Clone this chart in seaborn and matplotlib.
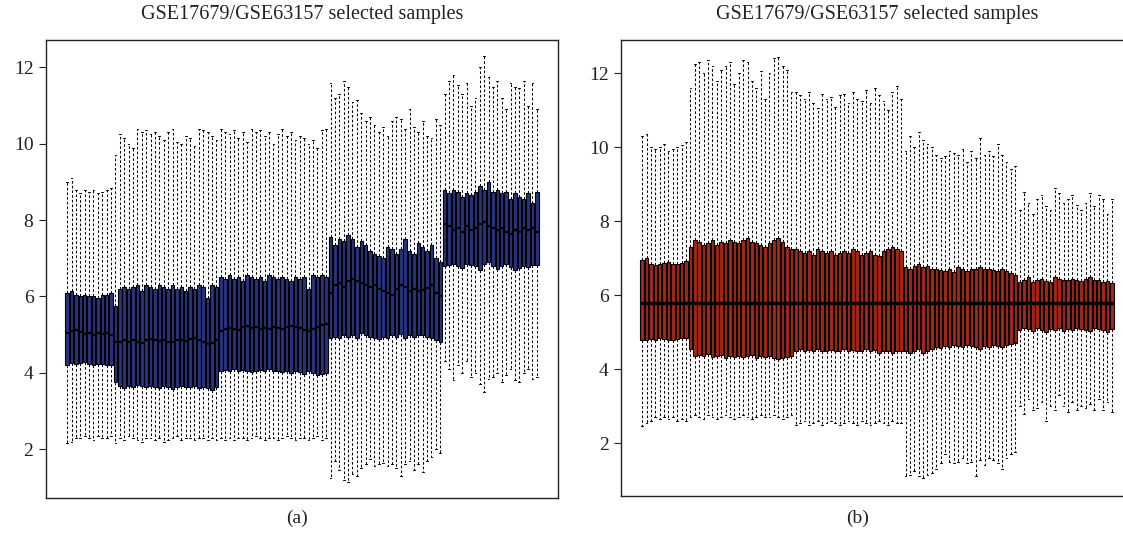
import numpy as np
import pandas as pd
import seaborn as sns
import matplotlib
matplotlib.use("Agg")
import matplotlib.pyplot as plt

sns.set_style("white")
plt.rcParams['font.family'] = ['Liberation Serif', 'DejaVu Serif']

title = "GSE17679/GSE63157 selected samples"

# ---- panel (a): per-sample box statistics (5 batches of samples) ----
a_hi = [9.0, 9.1, 8.8, 8.7, 8.8, 8.75, 8.8, 8.7, 8.75, 8.8, 8.85,
        9.7, 10.25, 10.15, 10.0, 9.9, 10.4, 10.3, 10.35, 10.25, 10.3,
        10.2, 10.1, 10.3, 10.4, 10.05, 10.0, 10.2, 10.15, 9.95, 10.4,
        10.35, 10.3, 10.2, 10.1,
        10.4, 10.3, 10.25, 10.35, 10.15, 10.3, 10.05, 10.4, 10.3, 10.35,
        10.2, 10.3, 10.0, 10.25, 10.4, 10.2, 10.3, 10.1, 10.2, 10.15,
        10.0, 10.1, 9.9, 10.35, 10.4,
        11.6, 11.2, 11.3, 11.65, 11.5, 11.1, 11.15, 10.8, 10.6, 10.7,
        10.5, 10.3, 10.45, 10.2, 10.6, 10.7, 10.65, 10.4, 10.9, 10.45,
        10.3, 10.6, 10.2, 10.15, 10.65, 10.5,
        11.3, 11.65, 11.8, 11.55, 11.3, 11.6, 11.0, 11.2, 12.0, 12.3,
        11.75, 11.5, 11.65, 11.2, 10.9, 11.6, 11.5, 11.45, 11.65, 11.0,
        11.6, 10.9]
a_q3 = [6.1, 6.15, 6.05, 6.0, 6.05, 6.0, 6.0, 5.95, 6.05, 6.05, 6.1,
        5.75, 6.2, 6.25, 6.2, 6.25, 6.3, 6.15, 6.3, 6.25, 6.2,
        6.3, 6.25, 6.2, 6.3, 6.2, 6.25, 6.15, 6.25, 6.2, 6.3,
        6.25, 5.95, 6.3, 6.25,
        6.5, 6.45, 6.55, 6.45, 6.5, 6.4, 6.55, 6.5, 6.45, 6.5,
        6.4, 6.55, 6.5, 6.45, 6.5, 6.45, 6.4, 6.5, 6.45, 6.5,
        6.2, 6.55, 6.5, 6.55, 6.5,
        7.55, 7.35, 7.5, 7.45, 7.6, 7.5, 7.3, 7.45, 7.35, 7.2,
        7.1, 7.05, 7.0, 7.3, 7.25, 7.1, 7.25, 7.5, 7.2, 7.1,
        7.4, 7.3, 7.2, 7.35, 7.0, 6.9,
        8.8, 8.7, 8.8, 8.75, 8.6, 8.7, 8.65, 8.75, 8.9, 8.8,
        9.0, 8.75, 8.8, 8.7, 8.75, 8.55, 8.7, 8.6, 8.55, 8.7,
        8.45, 8.75]
a_med = [5.05, 5.1, 5.12, 5.08, 5.02, 5.05, 5.0, 5.05, 5.02, 5.04, 5.0,
         4.8, 4.82, 4.85, 4.8, 4.85, 4.82, 4.78, 4.86, 4.88, 4.85,
         4.83, 4.86, 4.82, 4.8, 4.85, 4.87, 4.84, 4.88, 4.9, 4.86,
         4.82, 4.75, 4.78, 4.85,
         5.1, 5.15, 5.18, 5.14, 5.12, 5.2, 5.22, 5.18, 5.2, 5.16,
         5.18, 5.15, 5.2, 5.18, 5.16, 5.2, 5.22, 5.2, 5.18, 5.12,
         5.1, 5.15, 5.2, 5.25, 5.28,
         6.1, 6.3, 6.35, 6.25, 6.4, 6.45, 6.4, 6.35, 6.3, 6.25,
         6.3, 6.2, 6.15, 6.1, 6.05, 6.2, 6.3, 6.25, 6.15, 6.2,
         6.15, 6.18, 6.22, 6.3, 6.1, 6.0,
         7.9, 7.85, 7.75, 7.8, 7.7, 7.85, 7.75, 7.8, 7.9, 7.95,
         7.85, 7.8, 7.75, 7.8, 7.7, 7.65, 7.75, 7.7, 7.8, 7.75,
         7.8, 7.7]
a_q1 = [4.2, 4.25, 4.22, 4.25, 4.28, 4.22, 4.2, 4.24, 4.22, 4.2, 4.2,
        3.75, 3.65, 3.6, 3.65, 3.62, 3.68, 3.65, 3.64, 3.66, 3.62,
        3.6, 3.65, 3.63, 3.58, 3.62, 3.66, 3.64, 3.62, 3.65, 3.6,
        3.62, 3.6, 3.55, 3.62,
        4.05, 4.08, 4.04, 4.1, 4.06, 4.08, 4.05, 4.02, 4.06, 4.08,
        4.04, 4.1, 4.06, 4.04, 4.02, 4.06, 4.0, 4.04, 4.02, 3.98,
        4.05, 4.0, 3.95, 3.98, 4.0,
        4.9, 4.95, 4.92, 5.0, 4.95, 4.98, 4.92, 5.05, 5.0, 4.95,
        4.9, 4.88, 4.95, 4.9, 5.0, 4.95, 5.02, 4.92, 5.0, 4.95,
        4.98, 5.0, 4.95, 4.9, 4.85, 4.8,
        6.8, 6.82, 6.85, 6.8, 6.75, 6.85, 6.82, 6.8, 6.7, 6.85,
        6.9, 6.8, 6.72, 6.8, 6.85, 6.78, 6.7, 6.75, 6.8, 6.78,
        6.82, 6.82]
a_lo = [2.15, 2.2, 2.3, 2.3, 2.35, 2.3, 2.25, 2.35, 2.3, 2.3, 2.35,
        2.15, 2.3, 2.25, 2.35, 2.3, 2.25, 2.2, 2.3, 2.3, 2.25,
        2.3, 2.2, 2.25, 2.3, 2.35, 2.25, 2.3, 2.3, 2.25, 2.3,
        2.3, 2.25, 2.3, 2.25,
        2.3, 2.25, 2.3, 2.25, 2.3, 2.3, 2.25, 2.3, 2.35, 2.3,
        2.25, 2.3, 2.3, 2.25, 2.3, 2.35, 2.3, 2.25, 2.3, 2.3,
        2.25, 2.3, 2.35, 2.25, 2.3,
        1.25, 1.7, 1.45, 1.2, 1.15, 1.35, 1.3, 1.5, 1.6, 1.75,
        1.55, 1.6, 1.65, 1.55, 1.6, 1.5, 1.3, 1.6, 1.7, 1.45,
        1.6, 1.4, 1.7, 1.8, 2.0, 1.9,
        4.3, 4.1, 3.8, 4.2, 4.0, 4.3, 3.9, 4.0, 3.7, 3.5,
        3.85, 3.9, 4.0, 3.75, 3.95, 4.1, 3.8, 3.75, 4.0, 4.1,
        3.85, 3.9]

# ---- panel (b): same samples after normalisation ----
b_hi = [10.3, 10.35, 10.0, 9.95, 10.0, 10.1, 9.9, 9.95, 10.0, 10.05, 10.15,
        11.6, 12.25, 12.3, 12.0, 12.35, 12.2, 11.8, 12.1, 12.2, 12.3,
        11.7, 12.0, 12.35, 12.3, 11.8, 11.6, 12.05, 11.3, 12.0, 12.4,
        12.45, 12.2, 12.1, 11.5,
        11.5, 11.4, 11.3, 11.5, 11.2, 11.05, 11.45, 11.3, 11.35, 11.1,
        11.4, 11.45, 11.2, 11.5, 11.3, 11.25, 11.55, 11.2, 11.6, 11.4,
        11.25, 11.0, 11.5, 11.65, 11.3,
        9.9, 10.3, 10.0, 10.4, 10.2, 10.1, 10.0, 9.8, 9.7, 9.75,
        9.9, 9.85, 9.8, 9.95, 9.6, 9.9, 9.7, 10.25, 9.8, 9.9,
        9.75, 10.1, 9.8, 9.6, 9.4, 9.5,
        8.3, 8.8, 8.5, 8.2, 8.6, 8.7, 8.4, 8.3, 8.9, 8.75,
        8.5, 8.6, 8.7, 8.45, 8.3, 8.5, 8.75, 8.4, 8.7, 8.6,
        8.2, 8.6]
b_q3 = [6.95, 7.0, 6.85, 6.82, 6.85, 6.88, 6.9, 6.85, 6.85, 6.88, 6.92,
        7.3, 7.5, 7.45, 7.35, 7.4, 7.5, 7.35, 7.45, 7.4, 7.5,
        7.45, 7.4, 7.5, 7.55, 7.45, 7.4, 7.35, 7.3, 7.4, 7.5,
        7.55, 7.45, 7.3, 7.25,
        7.25, 7.2, 7.15, 7.2, 7.1, 7.25, 7.2, 7.15, 7.2, 7.1,
        7.15, 7.2, 7.15, 7.25, 7.2, 7.1, 7.15, 7.2, 7.1, 7.05,
        7.2, 7.25, 7.3, 7.25, 7.2,
        6.75, 6.7, 6.8, 6.85, 6.75, 6.8, 6.7, 6.72, 6.68, 6.65,
        6.7, 6.62, 6.75, 6.7, 6.65, 6.72, 6.7, 6.75, 6.7, 6.72,
        6.68, 6.65, 6.7, 6.65, 6.6, 6.55,
        6.35, 6.4, 6.5, 6.35, 6.4, 6.45, 6.38, 6.35, 6.5, 6.45,
        6.4, 6.42, 6.45, 6.4, 6.38, 6.45, 6.5, 6.4, 6.42, 6.35,
        6.38, 6.32]
b_med = [5.8] * 108
b_q1 = [4.78, 4.8, 4.82, 4.8, 4.85, 4.82, 4.8, 4.78, 4.82, 4.85, 4.85,
        4.55, 4.35, 4.38, 4.35, 4.4, 4.32, 4.35, 4.38, 4.3, 4.35,
        4.33, 4.36, 4.32, 4.35, 4.38, 4.3, 4.35, 4.32, 4.36, 4.3,
        4.28, 4.3, 4.32, 4.35,
        4.5, 4.55, 4.48, 4.52, 4.5, 4.55, 4.48, 4.5, 4.52, 4.5,
        4.48, 4.55, 4.5, 4.52, 4.48, 4.5, 4.55, 4.5, 4.52, 4.45,
        4.48, 4.5, 4.45, 4.48, 4.5,
        4.5, 4.45, 4.5, 4.55, 4.45, 4.5, 4.55, 4.6, 4.58, 4.62,
        4.6, 4.65, 4.62, 4.6, 4.65, 4.62, 4.6, 4.55, 4.62, 4.6,
        4.65, 4.62, 4.6, 4.65, 4.68, 4.7,
        5.05, 5.1, 5.08, 5.02, 5.1, 5.05, 5.0, 5.08, 5.05, 5.1,
        5.02, 5.08, 5.05, 5.1, 5.08, 5.05, 5.02, 5.1, 5.08, 5.05,
        5.0, 5.08]
b_lo = [2.45, 2.55, 2.6, 2.7, 2.65, 2.7, 2.65, 2.7, 2.6, 2.65, 2.6,
        2.7, 2.75, 2.7, 2.65, 2.75, 2.7, 2.65, 2.7, 2.75, 2.7,
        2.65, 2.7, 2.75, 2.7, 2.65, 2.7, 2.75, 2.7, 2.7, 2.75,
        2.7, 2.65, 2.7, 2.75,
        2.5, 2.55, 2.6, 2.5, 2.55, 2.6, 2.5, 2.55, 2.6, 2.55,
        2.5, 2.55, 2.6, 2.55, 2.5, 2.6, 2.55, 2.5, 2.55, 2.6,
        2.55, 2.5, 2.6, 2.55, 2.55,
        1.1, 1.15, 1.25, 1.1, 1.05, 1.15, 1.2, 1.3, 1.45, 1.7,
        1.5, 1.45, 1.5, 1.6, 1.45, 1.5, 1.1, 1.55, 1.4, 1.6,
        1.55, 1.45, 1.3, 1.6, 1.7, 1.75,
        3.0, 2.8, 3.2, 2.9, 2.95, 3.1, 2.6, 3.0, 2.9, 3.3,
        3.0, 2.85, 3.1, 2.9, 3.0, 2.95, 3.05, 2.9, 3.2, 2.9,
        3.1, 2.85]


def box_frame(lo, q1, med, q3, hi):
    # five points per sample -> quartiles land exactly on q1/med/q3
    rows = []
    for i in range(len(med)):
        for v in (lo[i], q1[i], med[i], q3[i], hi[i]):
            rows.append((i, v))
    return pd.DataFrame(rows, columns=["sample", "value"])


def draw_panel(ax, df, fill, ylim, label, label_x, med_lw):
    n = df["sample"].nunique()
    sns.boxplot(data=df, x="sample", y="value", ax=ax, whis=(0, 100),
                showfliers=False, width=0.8, color=fill, saturation=1,
                linecolor="black", linewidth=0.8,
                whiskerprops=dict(linestyle=(0, (2.5, 2)), linewidth=0.75),
                capprops=dict(linewidth=0.75),
                medianprops=dict(linewidth=med_lw, color="black"))
    ax.set_xlim(-0.5 - 0.04 * n, n - 0.5 + 0.04 * n)
    ax.set_ylim(*ylim)
    ax.set_xticks([])
    ax.set_yticks([2, 4, 6, 8, 10, 12])
    ax.set_xlabel("")
    ax.set_ylabel("")
    ax.tick_params(axis="y", left=True, length=5, width=0.8, labelsize=14,
                   colors="#222222", pad=4)
    for s in ax.spines.values():
        s.set_color("#222222")
        s.set_linewidth(1.0)
    ax.set_title(title, fontsize=14.5, pad=15, color="#222222")
    ax.figure.text(label_x, 1 - 518 / 535, label, ha="center", va="center",
                   fontsize=14, color="#222222")


fig = plt.figure(figsize=(11.23, 5.35), dpi=100)
ax_a = fig.add_axes([46 / 1123, 1 - 498 / 535, 512 / 1123, 458 / 535])
ax_b = fig.add_axes([621 / 1123, 1 - 496 / 535, 512 / 1123, 456 / 535])

draw_panel(ax_a, box_frame(a_lo, a_q1, a_med, a_q3, a_hi), "#283382",
           (0.72, 12.72), "(a)", 297 / 1123, 1.6)
draw_panel(ax_b, box_frame(b_lo, b_q1, b_med, b_q3, b_hi), "#a82616",
           (0.57, 12.9), "(b)", 858 / 1123, 2.4)

fig.savefig("out.png", dpi=100)
